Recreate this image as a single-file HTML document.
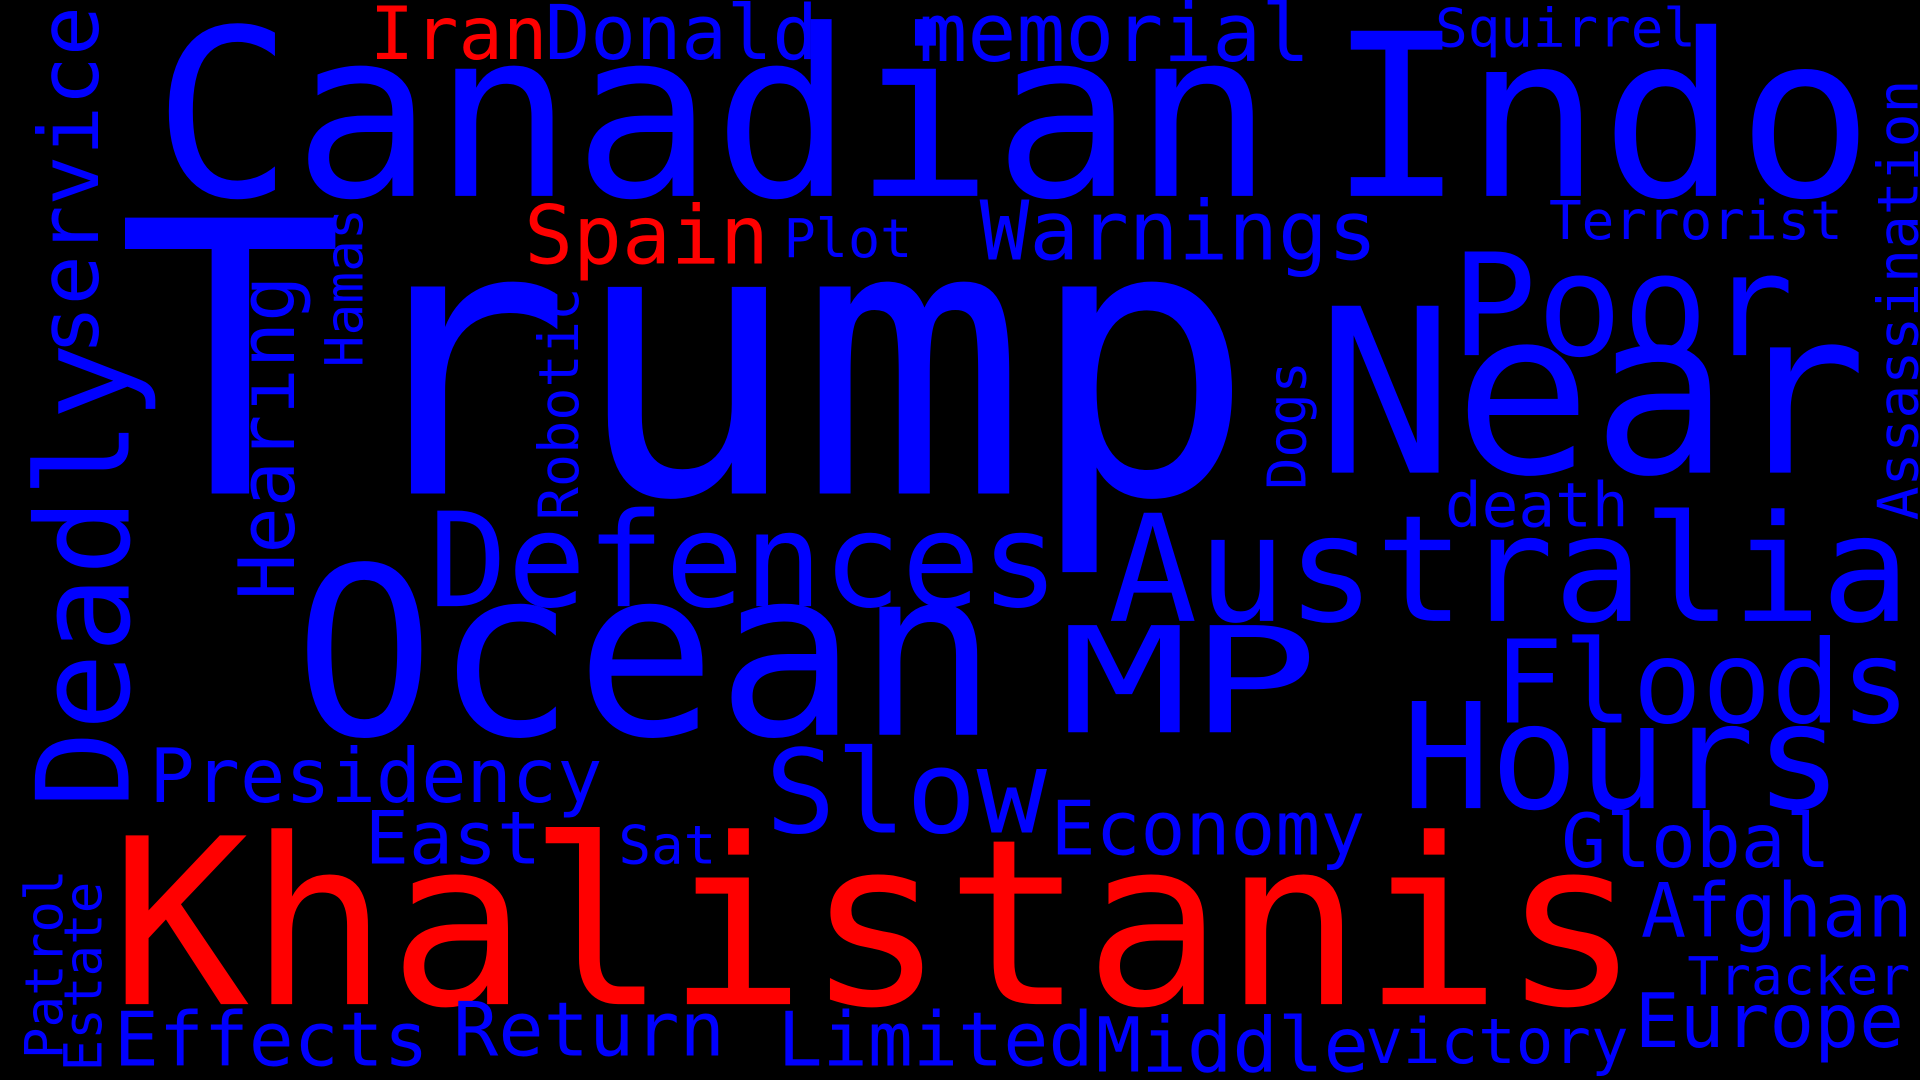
<!DOCTYPE html>
<html><head><meta charset="utf-8">
<style>
html,body{margin:0;padding:0;background:#000;width:1920px;height:1080px;overflow:hidden}
svg{display:block}
text{font-family:"DejaVu Sans Mono","Liberation Mono",monospace;}
</style></head>
<body>
<svg id="cloud" width="1920" height="1080" viewBox="0 0 1568 882" preserveAspectRatio="none">
<rect width="1568" height="882" fill="#000"/>
<g id="words"></g>
</svg>
<script>
const words = ["Trump","Canadian","Indo","Near","Poor","Ocean","MP","Australia","Defences","Khalistanis","Hours","Floods","Slow","Warnings","Spain","Plot","memorial","Donald","Iran","Squirrel","Terrorist","death","Economy","Presidency","East","Sat","Global","Afghan","Tracker","Europe","victory","Middle","Limited","Return","Effects","service","Deadly","Hearing","Hamas","Robotic","Dogs","Assassination","Patrol","Estate"];
const sizes = [309,190,185,187,116,191,120,121,107,189,120,94,95,67,66,44,66,62,60,44,44,50,61,61,60,44,61,61,43,61,51,62,61,61,61,68,105,63,43,45,44,46,43,43];
const colors = ["b","b","b","b","b","b","b","b","b","r","b","b","b","b","r","b","b","b","r","b","b","b","b","b","b","b","b","b","b","b","b","b","b","b","b","b","b","b","b","b","b","b","b","b"];
// layout: [x, baselineY, length, vertical]
const layout = [
[95,403,930,0],[125,160,915,0],[1085,160,445,0],[1075,386,450,0],[1185,290,280,0],
[240,600,575,0],[865,598,212,0],[905,507,655,0],[350,495,515,0],[90,820,1250,0],
[1145,660,360,0],[1220,590,340,0],[625,680,230,0],[800,212,325,0],[428,215,200,0],
[640,210,105,0],[750,50,320,0],[445,48,223,0],[302,48,145,0],[1172,38,213,0],
[1265,195,240,0],[1180,430,150,0],[858,698,257,0],[122,655,370,0],[298,705,144,0],
[505,705,80,0],[1275,708,220,0],[1340,765,222,0],[1378,812,182,0],[1335,855,220,0],
[1115,868,215,0],[895,875,223,0],[635,870,258,0],[370,862,222,0],[93,870,257,0],
[80,290,285,1],[105,660,380,1],[240,490,265,1],[296,300,130,1],[472,425,190,1],
[1066,400,105,1],[1566,425,360,1],[51,865,155,1],[83,875,155,1]
];
const g = document.getElementById('words');
const NS = "http://www.w3.org/2000/svg";
for (let i = 0; i < words.length; i++) {
  const t = document.createElementNS(NS, 'text');
  const L = layout[i];
  t.setAttribute('font-size', sizes[i]);
  t.setAttribute('fill', colors[i] === 'r' ? '#ff0000' : '#0000ff');
  t.setAttribute('textLength', L[2]);
  t.setAttribute('lengthAdjust', 'spacingAndGlyphs');
  if (L[3]) {
    t.setAttribute('transform', 'translate(' + L[0] + ',' + L[1] + ') rotate(-90)');
  } else {
    t.setAttribute('x', L[0]);
    t.setAttribute('y', L[1]);
  }
  t.textContent = words[i];
  
  
  g.appendChild(t);
}
</script>
</body></html>
